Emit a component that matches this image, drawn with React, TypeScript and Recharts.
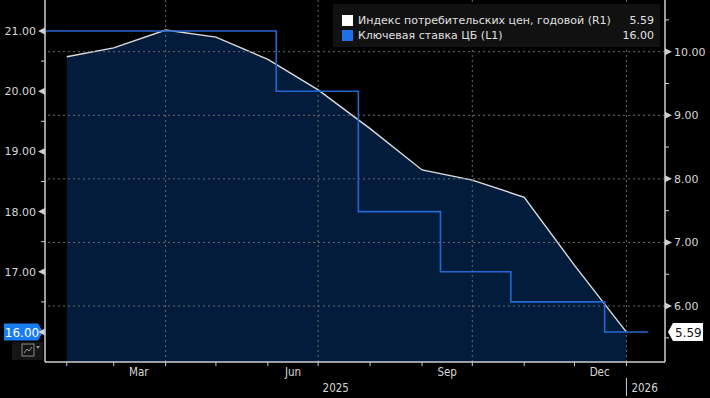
import React from 'react';
import { ComposedChart, Area, Line, XAxis, YAxis, ReferenceLine, ReferenceDot } from 'recharts';

// ---- data ----
const cpiDates = ['2025-02-01', '2025-03-01', '2025-04-01', '2025-05-01', '2025-06-01', '2025-07-01', '2025-08-01', '2025-09-01', '2025-10-01', '2025-11-01', '2025-12-01', '2026-01-01'];
const cpiValues = [9.92, 10.06, 10.34, 10.23, 9.88, 9.4, 8.79, 8.14, 7.98, 7.71, 6.64, 5.59];

const rateDates = ['2025-01-19', '2025-06-06', '2025-07-25', '2025-09-12', '2025-10-24', '2025-12-19', '2026-01-14'];
const rateValues = [21, 20, 18, 17, 16.5, 16, 16];

const xDomainDates = ['2025-01-19', '2026-01-24'];
const monthTickDates = ['2025-02-01', '2025-03-01', '2025-04-01', '2025-05-01', '2025-06-01', '2025-07-01', '2025-08-01', '2025-09-01', '2025-10-01', '2025-11-01', '2025-12-01', '2026-01-01'];
const monthLabels = ['Mar', 'Jun', 'Sep', 'Dec'];
const monthLabelDates = ['2025-03-16', '2025-06-16', '2025-09-16', '2025-12-16'];
const yearLabels = ['2025', '2026'];
const yearBoundaryDate = '2026-01-01';
const gridDates = ['2025-04-01', '2025-07-01', '2025-10-01', '2026-01-01'];

const leftTicks = [16, 17, 18, 19, 20, 21];
const leftMinorTicks = [16.5, 17.5, 18.5, 19.5, 20.5];
const leftDomain = [15.502, 21.515];
const rightTicks = [6, 7, 8, 9, 10];
const rightMinorTicks = [5.5, 6.5, 7.5, 8.5, 9.5, 10.5];
const rightDomain = [5.12, 10.813];

const cpiName = 'Индекс потребительских цен, годовой (R1)';
const rateName = 'Ключевая ставка ЦБ (L1)';

// ---- derived ----
const ms = (d: string) => Date.parse(d);
const cpiData = cpiDates.map((d, i) => ({ t: ms(d), cpi: cpiValues[i] }));
const rateData = rateDates.map((d, i) => ({ t: ms(d), rate: rateValues[i] }));
const xDomain = xDomainDates.map(ms);
const monthTickMs = monthTickDates.map(ms);
const monthLabelMs = monthLabelDates.map(ms);
const boundaryMs = ms(yearBoundaryDate);
const year2025Ms = Math.round((xDomain[0] + boundaryMs) / 2);
const xTicks = Array.from(new Set([...monthTickMs, ...monthLabelMs, year2025Ms])).sort((a, b) => a - b);

const lastCpi = cpiValues[cpiValues.length - 1];
const lastRate = rateValues[rateValues.length - 1];

const TXT = '#d6d6d6';
const AXIS = '#cfcfcf';
const GRID = '#6a6a6a';
const FONT = '"DejaVu Sans", Verdana, sans-serif';
const CFONT = '"DejaVu Sans Condensed", "Liberation Sans Narrow", sans-serif';
const RATE_BLUE = '#2367d1';

function XTick(props: any) {
  const { x, y, payload } = props;
  const v = payload.value;
  const els: any[] = [];
  if (monthTickMs.includes(v)) {
    els.push(<line key="t" x1={x} x2={x} y1={y} y2={y + 4} stroke={AXIS} strokeWidth={1} />);
  }
  const li = monthLabelMs.indexOf(v);
  if (li >= 0) {
    els.push(
      <text key="m" x={x} y={y + 14} textAnchor="middle" fill={TXT} fontSize={11.5} fontFamily={CFONT}>
        {monthLabels[li]}
      </text>
    );
  }
  if (v === year2025Ms) {
    els.push(
      <text key="y1" x={x} y={y + 30} textAnchor="middle" fill={TXT} fontSize={11.5} fontFamily={CFONT}>
        {yearLabels[0]}
      </text>
    );
  }
  if (v === boundaryMs) {
    els.push(<line key="s" x1={x} x2={x} y1={y + 16} y2={y + 34} stroke={AXIS} strokeWidth={1} />);
    els.push(
      <text key="y2" x={x + 5} y={y + 30} textAnchor="start" fill={TXT} fontSize={11.5} fontFamily={CFONT}>
        {yearLabels[1]}
      </text>
    );
  }
  return <g>{els}</g>;
}

function LeftTick(props: any) {
  const { x, y, payload } = props;
  const v = payload.value;
  if (leftMinorTicks.includes(v)) {
    return <line x1={x - 4} x2={x} y1={y} y2={y} stroke={AXIS} strokeWidth={1} />;
  }
  return (
    <g>
      <path d={`M${x},${y - 3.5} L${x},${y + 3.5} L${x - 7},${y} Z`} fill={AXIS} />
      {v !== lastRate && (
        <text x={x - 9} y={y + 4} textAnchor="end" fill={TXT} fontSize={11} fontFamily={FONT}>
          {v.toFixed(2)}
        </text>
      )}
    </g>
  );
}

function RightTick(props: any) {
  const { x, y, payload } = props;
  const v = payload.value;
  if (rightMinorTicks.includes(v)) {
    return <line x1={x} x2={x + 4} y1={y} y2={y} stroke={AXIS} strokeWidth={1} />;
  }
  return (
    <g>
      <path d={`M${x},${y - 3.5} L${x},${y + 3.5} L${x + 7},${y} Z`} fill={AXIS} />
      <text x={x + 9} y={y + 4} textAnchor="start" fill={TXT} fontSize={11} fontFamily={FONT}>
        {v.toFixed(2)}
      </text>
    </g>
  );
}

function LeftBadge(props: any) {
  const { cx, cy } = props;
  const l = cx - 41;
  return (
    <g>
      <path
        d={`M${l},${cy - 8.5} L${cx - 7},${cy - 8.5} L${cx - 2},${cy} L${cx - 7},${cy + 8.5} L${l},${cy + 8.5} Z`}
        fill="#1a7cf2"
      />
      <text x={cx - 23} y={cy + 4.5} textAnchor="middle" fill="#ffffff" fontSize={12} fontFamily={FONT}>
        {lastRate.toFixed(2)}
      </text>
      <rect x={cx - 33} y={cy + 10} width={31} height={18} fill="#151515" />
      <rect x={cx - 23} y={cy + 12} width={12} height={12} fill="none" stroke="#8a8a8a" strokeWidth={1} />
      <path d={`M${cx - 21},${cy + 21} L${cx - 18},${cy + 17} L${cx - 16},${cy + 19} L${cx - 13},${cy + 15}`} fill="none" stroke="#9a9a9a" strokeWidth={1} />
      <path d={`M${cx - 9},${cy + 14} L${cx - 5},${cy + 14} L${cx - 7},${cy + 17} Z`} fill="#8a8a8a" />
    </g>
  );
}

function RightBadge(props: any) {
  const { cx, cy } = props;
  return (
    <g>
      <path
        d={`M${cx + 3},${cy} L${cx + 8},${cy - 9} L${cx + 38},${cy - 9} L${cx + 38},${cy + 9} L${cx + 8},${cy + 9} Z`}
        fill="#ffffff"
      />
      <text x={cx + 10} y={cy + 4.5} textAnchor="start" fill="#111111" fontSize={12} fontFamily={FONT}>
        {lastCpi.toFixed(2)}
      </text>
    </g>
  );
}

function LegendBox() {
  const rows = [
    { color: '#ffffff', name: cpiName, value: lastCpi.toFixed(2) },
    { color: '#1f6fe8', name: rateName, value: lastRate.toFixed(2) },
  ];
  return (
    <div
      style={{
        position: 'absolute',
        left: 333,
        top: 4,
        width: 327,
        height: 43,
        background: '#111111',
        boxSizing: 'border-box',
        padding: '9px 6px 0 9px',
        fontFamily: FONT,
        fontSize: 11,
        color: '#e0e0e0',
      }}
    >
      {rows.map((r) => (
        <div key={r.name} style={{ display: 'flex', alignItems: 'center', height: 15 }}>
          <span style={{ width: 11, height: 11, flexShrink: 0, background: r.color, display: 'inline-block', marginRight: 5 }} />
          <span style={{ flex: 1, whiteSpace: 'nowrap', overflow: 'hidden' }}>{r.name}</span>
          <span style={{ flexShrink: 0, marginLeft: 6 }}>{r.value}</span>
        </div>
      ))}
    </div>
  );
}

export default function App() {
  return (
    <div style={{ position: 'absolute', left: 0, top: 0, width: 710, height: 398, background: '#000000', overflow: 'hidden' }}>
      <ComposedChart width={710} height={398} margin={{ top: 0, right: 0, bottom: 0, left: 0 }}>
        <XAxis
          dataKey="t"
          type="number"
          domain={xDomain}
          ticks={xTicks}
          interval={0}
          allowDataOverflow
          height={36}
          tickLine={false}
          tickSize={0}
          tickMargin={0}
          axisLine={{ stroke: AXIS, strokeWidth: 1.5 }}
          tick={<XTick />}
        />
        <YAxis
          yAxisId="left"
          orientation="left"
          width={45}
          domain={leftDomain}
          ticks={[...leftTicks, ...leftMinorTicks].sort((a, b) => a - b)}
          interval={0}
          allowDataOverflow
          tickLine={false}
          tickSize={0}
          tickMargin={0}
          axisLine={{ stroke: AXIS, strokeWidth: 1.5 }}
          tick={<LeftTick />}
        />
        <YAxis
          yAxisId="right"
          orientation="right"
          width={45}
          domain={rightDomain}
          ticks={[...rightTicks, ...rightMinorTicks].sort((a, b) => a - b)}
          interval={0}
          allowDataOverflow
          tickLine={false}
          tickSize={0}
          tickMargin={0}
          axisLine={{ stroke: AXIS, strokeWidth: 1.5 }}
          tick={<RightTick />}
        />
        <Area
          data={cpiData}
          yAxisId="right"
          dataKey="cpi"
          type="linear"
          stroke="#dcdcdc"
          strokeWidth={1.4}
          fill="#041c3c"
          fillOpacity={1}
          isAnimationActive={false}
          dot={false}
          activeDot={false}
        />
        {rightTicks.map((v) => (
          <ReferenceLine key={'h' + v} yAxisId="right" y={v} stroke={GRID} strokeDasharray="2 3" strokeWidth={1} />
        ))}
        {gridDates.map((d) => (
          <ReferenceLine key={'v' + d} yAxisId="right" x={ms(d)} stroke={GRID} strokeDasharray="2 3" strokeWidth={1} />
        ))}
        <Line
          data={rateData}
          yAxisId="left"
          dataKey="rate"
          type="stepAfter"
          stroke={RATE_BLUE}
          strokeWidth={1.6}
          dot={false}
          activeDot={false}
          isAnimationActive={false}
        />
        <ReferenceDot yAxisId="left" x={xDomain[0]} y={lastRate} ifOverflow="visible" shape={<LeftBadge />} />
        <ReferenceDot yAxisId="right" x={xDomain[1]} y={lastCpi} ifOverflow="visible" shape={<RightBadge />} />
      </ComposedChart>
      <LegendBox />
    </div>
  );
}
